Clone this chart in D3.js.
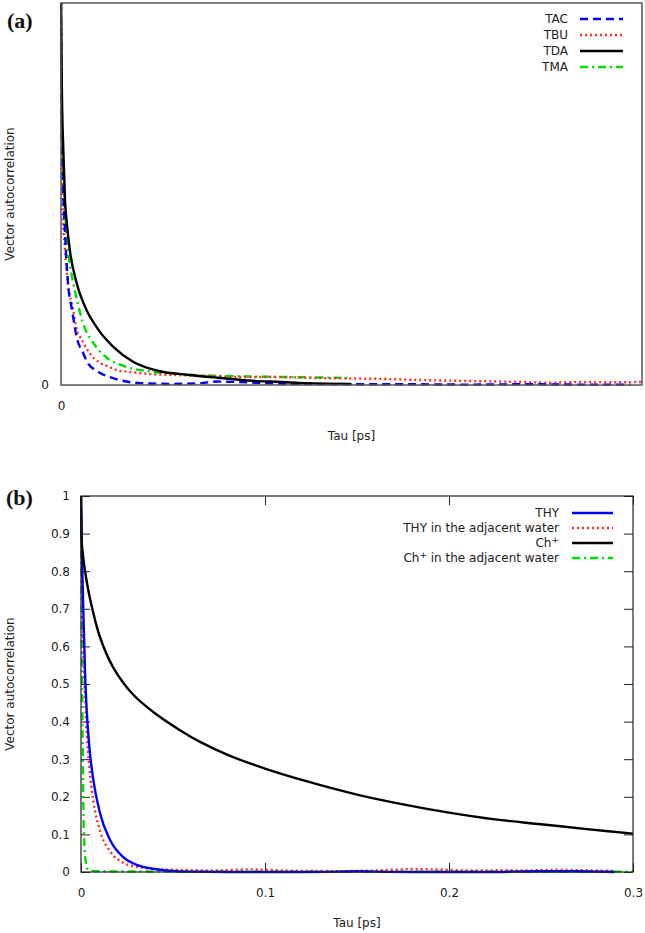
<!DOCTYPE html>
<html>
<head>
<meta charset="utf-8">
<script src="https://cdn.jsdelivr.net/npm/d3@7"></script>
<style>
  html, body { margin: 0; padding: 0; background: #fff; }
  svg { display: block; }
</style>
</head>
<body>
<svg id="chart" width="645" height="933"></svg>
<script>
// ---------- Panel (a) data: [tau, autocorrelation] ----------
const seriesA = ["TAC", "TBU", "TDA", "TMA"];
const tacA = [[0,1],[0.0009,0.75],[0.0034,0.529],[0.0069,0.398],[0.012,0.267],[0.019,0.196],[0.0275,0.122],[0.038,0.084],[0.045,0.06],[0.064,0.035],[0.096,0.015],[0.136,0.005],[0.19,0.003],[0.24,0.005],[0.27,0.009],[0.3,0.008],[0.35,0.005],[0.41,0.003],[0.5,0.002],[0.6,0.002],[0.7,0.001],[0.8,0.002],[0.9,0.001],[0.98,0.001]];
const tbuA = [[0,1],[0.0009,0.75],[0.002,0.6],[0.0026,0.48],[0.0069,0.353],[0.012,0.267],[0.021,0.196],[0.028,0.139],[0.033,0.126],[0.047,0.088],[0.067,0.058],[0.079,0.05],[0.096,0.039],[0.119,0.034],[0.16,0.028],[0.2,0.026],[0.25,0.024],[0.3,0.021],[0.36,0.021],[0.45,0.018],[0.55,0.016],[0.62,0.013],[0.72,0.01],[0.79,0.008],[0.84,0.006],[0.9,0.008],[0.95,0.007],[1.0,0.008]];
const tdaA = [[0,1],[0.0009,0.85],[0.0017,0.75],[0.004,0.615],[0.0069,0.484],[0.0103,0.42],[0.0155,0.35],[0.027,0.267],[0.044,0.196],[0.059,0.157],[0.067,0.139],[0.09,0.1],[0.124,0.061],[0.17,0.036],[0.217,0.027],[0.27,0.019],[0.33,0.011],[0.38,0.008],[0.42,0.005],[0.5,0.003]];
const tmaA = [[0,1],[0.0009,0.82],[0.0017,0.7],[0.0035,0.58],[0.006,0.484],[0.012,0.353],[0.019,0.283],[0.0275,0.222],[0.038,0.162],[0.058,0.105],[0.08,0.07],[0.107,0.05],[0.15,0.036],[0.2,0.029],[0.25,0.025],[0.3,0.023],[0.38,0.021],[0.43,0.02],[0.5,0.018]];

// ---------- Panel (b) data ----------
const seriesB = ["THY", "THY in the adjacent water", "Ch+", "Ch+ in the adjacent water"];
const thyB = [[0,1],[0.0005,0.85],[0.0013,0.69],[0.0022,0.53],[0.0031,0.43],[0.0045,0.335],[0.0067,0.245],[0.0103,0.157],[0.0158,0.085],[0.0228,0.04],[0.032,0.016],[0.043,0.006],[0.058,0.001],[0.08,0],[0.1,0],[0.12,0],[0.14,0.001],[0.15,0.002],[0.16,0.001],[0.18,0],[0.2,0],[0.22,0],[0.25,0.002],[0.27,0.002],[0.28,0.001],[0.29,0]];
const thyWaterB = [[0,1],[0.0005,0.8],[0.0013,0.6],[0.0022,0.47],[0.0031,0.37],[0.0045,0.28],[0.0067,0.19],[0.0103,0.11],[0.0158,0.055],[0.0228,0.025],[0.032,0.012],[0.043,0.007],[0.05,0.006],[0.06,0.005],[0.07,0.004],[0.08,0.005],[0.09,0.007],[0.1,0.006],[0.11,0.004],[0.12,0.003],[0.13,0.003],[0.14,0.002],[0.15,0.003],[0.16,0.004],[0.17,0.006],[0.18,0.008],[0.19,0.007],[0.2,0.006],[0.21,0.004],[0.22,0.004],[0.23,0.005],[0.24,0.004],[0.25,0.005],[0.26,0.006],[0.27,0.005],[0.28,0.004],[0.29,0.003]];
const chB = [[0,1],[0.0005,0.87],[0.001,0.845],[0.0022,0.8],[0.005,0.725],[0.0103,0.625],[0.0174,0.545],[0.0283,0.472],[0.0413,0.418],[0.0538,0.377],[0.0647,0.346],[0.08,0.311],[0.1,0.275],[0.12,0.245],[0.15,0.206],[0.175,0.18],[0.2,0.158],[0.225,0.14],[0.25,0.127],[0.275,0.114],[0.3,0.102]];
const chWaterB = [[0,1],[0.0005,0.6],[0.001,0.3],[0.0015,0.12],[0.0025,0.03],[0.004,0.005],[0.01,0.002],[0.05,0.001],[0.1,0.001],[0.15,0.001],[0.2,0.001],[0.25,0.001],[0.3,0.001]];
const yTicksB = [0, 0.1, 0.2, 0.3, 0.4, 0.5, 0.6, 0.7, 0.8, 0.9, 1];
const xTicksB = [0, 0.1, 0.2, 0.3];

const svg = d3.select("#chart");
const SANS = "DejaVu Sans, sans-serif";
const SERIF = "Liberation Serif, Times New Roman, serif";

const styles = [
  { color: "#0000ff", dash: "8,5" },
  { color: "#ff2a2a", dash: "2,3" },
  { color: "#000000", dash: null },
  { color: "#00dd00", dash: "8,4,2,4" }
];
const stylesB = [
  { color: "#0000ff", dash: null },
  { color: "#ff2a2a", dash: "2,3" },
  { color: "#000000", dash: null },
  { color: "#00dd00", dash: "8,4,2,4" }
];

function label(g, x, y, txt, opts = {}) {
  return g.append("text").attr("x", x).attr("y", y)
    .attr("text-anchor", opts.anchor || "middle")
    .style("font-family", opts.family || SANS)
    .style("font-size", (opts.size || 12) + "px")
    .style("font-weight", opts.weight || "normal")
    .style("fill", opts.fill || "#222")
    .text(txt);
}

function drawCurves(g, x, y, datasets, st, clipId, box, curves) {
  g.append("clipPath").attr("id", clipId).append("rect")
    .attr("x", box.l - 1).attr("y", box.t - 2).attr("width", box.r - box.l + 2).attr("height", box.b - box.t + 4);
  datasets.forEach((ds, i) => {
    const line = d3.line().x(d => x(d[0])).y(d => y(d[1]))
      .curve(curves && curves[i] ? curves[i] : d3.curveMonotoneX);
    g.append("path").attr("clip-path", `url(#${clipId})`)
      .attr("d", line(ds)).attr("fill", "none")
      .attr("stroke", st[i].color).attr("stroke-width", 2.4)
      .attr("stroke-dasharray", st[i].dash);
  });
}

function styleAxis(a) {
  a.select(".domain").remove();
  a.selectAll("line").attr("stroke", "#222").attr("stroke-width", 1);
  a.selectAll("text").style("font-size", "12px").style("font-family", SANS).style("fill", "#222");
}

// ================= Panel (a) =================
{
  const box = { l: 61, r: 642, t: 3, b: 385 };
  const x = d3.scaleLinear().domain([0, 1]).range([box.l, box.r]);
  const y = d3.scaleLinear().domain([0, 1]).range([box.b, box.t]);
  const g = svg.append("g");

  drawCurves(g, x, y, [tmaA, tbuA, tacA, tdaA], [styles[3], styles[1], styles[0], styles[2]], "clipA", box);
  g.append("rect").attr("x", box.l).attr("y", box.t).attr("width", box.r - box.l).attr("height", box.b - box.t)
    .attr("fill", "none").attr("stroke", "#555").attr("stroke-width", 1.5);

  const ax = g.append("g").attr("transform", `translate(0,${box.b})`)
    .call(d3.axisBottom(x).tickValues([0]).tickSize(0).tickPadding(16).tickFormat(d3.format("d")));
  const ay = g.append("g").attr("transform", `translate(${box.l},0)`)
    .call(d3.axisLeft(y).tickValues([0]).tickSize(0).tickPadding(12).tickFormat(d3.format("d")));
  styleAxis(ax); styleAxis(ay);

  label(g, (box.l + box.r) / 2, 440, "Tau [ps]");
  label(g, 0, 0, "Vector autocorrelation").attr("transform", `translate(14,${(box.t + box.b) / 2}) rotate(-90)`);
  label(g, 7, 28, "(a)", { anchor: "start", family: SERIF, size: 22, weight: "bold", fill: "#111" });

  const legY = d3.scalePoint().domain(seriesA).range([19, 67]);
  seriesA.forEach((s, i) => {
    label(g, 568, legY(s), s, { anchor: "end" }).attr("dy", "0.35em");
    g.append("line").attr("x1", 580).attr("x2", 623).attr("y1", legY(s)).attr("y2", legY(s))
      .attr("stroke", styles[i].color).attr("stroke-width", 2.4).attr("stroke-dasharray", styles[i].dash);
  });
}

// ================= Panel (b) =================
{
  const box = { l: 81, r: 633, t: 496, b: 872 };
  const x = d3.scaleLinear().domain([0, 0.3]).range([box.l, box.r]);
  const y = d3.scaleLinear().domain([0, 1]).range([box.b, box.t]);
  const g = svg.append("g");

  const tl = 9;
  const fmt = d => d3.format("")(d);
  const axL = g.append("g").attr("transform", `translate(${box.l},0)`)
    .call(d3.axisLeft(y).tickValues(yTicksB).tickSizeInner(-tl).tickSizeOuter(0).tickPadding(11).tickFormat(fmt));
  const axR = g.append("g").attr("transform", `translate(${box.r},0)`)
    .call(d3.axisRight(y).tickValues(yTicksB).tickSizeInner(-tl).tickSizeOuter(0).tickFormat(""));
  const axB = g.append("g").attr("transform", `translate(0,${box.b})`)
    .call(d3.axisBottom(x).tickValues(xTicksB).tickSizeInner(-tl).tickSizeOuter(0).tickPadding(16).tickFormat(fmt));
  const axT = g.append("g").attr("transform", `translate(0,${box.t})`)
    .call(d3.axisTop(x).tickValues(xTicksB).tickSizeInner(-tl).tickSizeOuter(0).tickFormat(""));
  [axL, axR, axB, axT].forEach(styleAxis);

  drawCurves(g, x, y, [chWaterB, thyWaterB, thyB, chB], [stylesB[3], stylesB[1], stylesB[0], stylesB[2]], "clipB", box,
    [null, null, null, d3.curveCatmullRom.alpha(0.5)]);

  g.append("rect").attr("x", box.l).attr("y", box.t).attr("width", box.r - box.l).attr("height", box.b - box.t)
    .attr("fill", "none").attr("stroke", "#222").attr("stroke-width", 1.2);

  label(g, (box.l + box.r) / 2, 927, "Tau [ps]");
  label(g, 0, 0, "Vector autocorrelation").attr("transform", `translate(14,${(box.t + box.b) / 2}) rotate(-90)`);
  label(g, 6, 505, "(b)", { anchor: "start", family: SERIF, size: 22, weight: "bold", fill: "#111" });

  const legY = d3.scalePoint().domain(seriesB).range([513, 558]);
  seriesB.forEach((s, i) => {
    const t = label(g, 559, legY(s), "", { anchor: "end" }).attr("dy", "0.35em");
    if (s.startsWith("Ch+")) {
      t.append("tspan").text("Ch");
      t.append("tspan").attr("dy", "-4").style("font-size", "9px").text("+");
      const rest = s.slice(3);
      if (rest) t.append("tspan").attr("dy", "4").text(rest);
    } else {
      t.text(s);
    }
    g.append("line").attr("x1", 572).attr("x2", 613).attr("y1", legY(s)).attr("y2", legY(s))
      .attr("stroke", stylesB[i].color).attr("stroke-width", 2.4).attr("stroke-dasharray", stylesB[i].dash);
  });
}
</script>
</body>
</html>
